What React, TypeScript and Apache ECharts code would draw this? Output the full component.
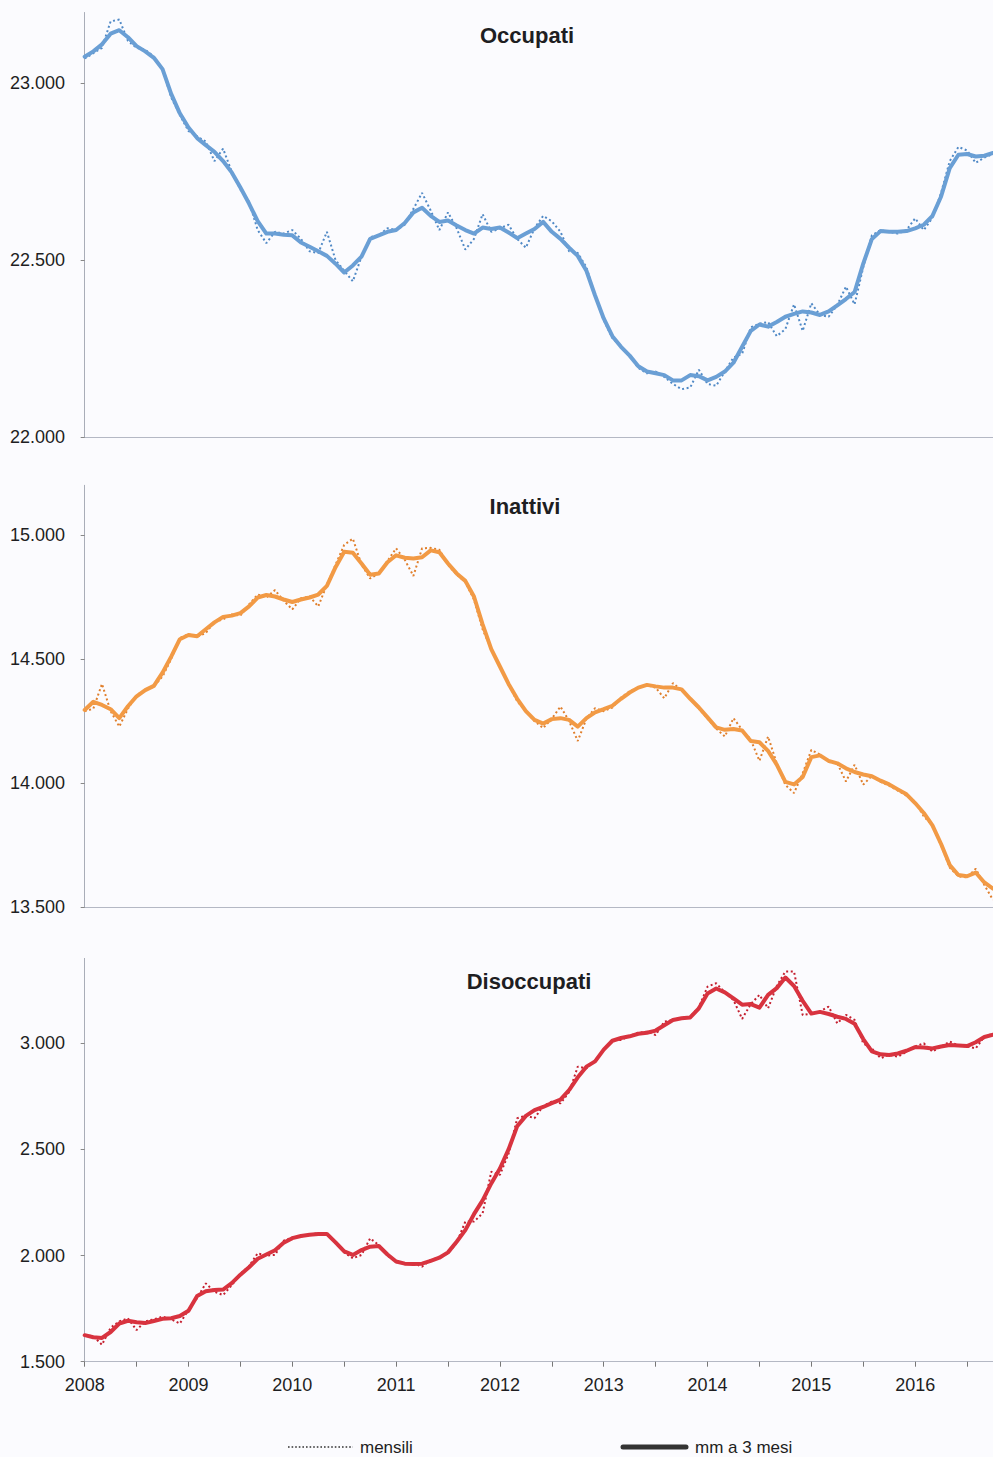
import React, { useEffect, useRef } from "react";
import * as echarts from "echarts";

// Month index 0 = Jan 2008
const yearLabels = ["2008", "2009", "2010", "2011", "2012", "2013", "2014", "2015", "2016"];

const occupatiMensili = [
  23070, 23085, 23100, 23175, 23180, 23120, 23100, 23095, 23075, 23040,
  22960, 22910, 22865, 22850, 22835, 22780, 22815, 22750, 22700, 22665,
  22585, 22548, 22580, 22575, 22585, 22560, 22525, 22520, 22580, 22500,
  22470, 22440, 22510, 22565, 22570, 22590, 22585, 22600, 22645, 22690,
  22640, 22585, 22635, 22590, 22530, 22560, 22630, 22580, 22590, 22600,
  22560, 22535, 22590, 22625, 22610, 22580, 22525, 22520, 22480, 22400,
  22330, 22280, 22255, 22230, 22195, 22180, 22185, 22170, 22150, 22135,
  22140, 22190, 22150, 22145, 22185, 22225, 22235, 22310, 22320, 22325,
  22285, 22305, 22375, 22300, 22378, 22345, 22340, 22373, 22425, 22375,
  22480, 22570, 22585, 22580, 22575, 22585, 22618, 22585, 22620, 22690,
  22780, 22820, 22810, 22775, 22790, 22800,
];
const occupatiMM3 = [
  23075, 23090, 23110, 23140, 23150, 23130, 23105, 23090, 23072, 23040,
  22970, 22915, 22875, 22845, 22825, 22806, 22780, 22748, 22705, 22660,
  22610, 22575, 22575, 22572, 22570, 22550, 22538, 22525, 22512, 22490,
  22465, 22485, 22510, 22560, 22570, 22580, 22585, 22605, 22635, 22648,
  22625, 22608, 22612, 22598, 22585, 22575, 22592, 22588, 22592, 22578,
  22562, 22575, 22588, 22608, 22580, 22560, 22535, 22512, 22470, 22400,
  22335, 22285, 22255, 22230, 22200, 22185, 22180, 22175, 22160, 22160,
  22175, 22172, 22160, 22170, 22185, 22210, 22255, 22300, 22318, 22312,
  22325, 22340, 22348, 22355, 22352, 22345, 22355, 22372, 22390, 22410,
  22490, 22560, 22582, 22580, 22580, 22582, 22590, 22600, 22625, 22680,
  22760, 22798, 22800, 22793, 22795, 22803,
];

const inattiviMensili = [
  14290, 14300, 14400, 14290, 14228, 14300, 14355, 14375, 14390, 14430,
  14500, 14585, 14600, 14590, 14605, 14650, 14660, 14680, 14675, 14720,
  14760, 14748, 14778, 14735, 14700, 14745, 14752, 14712, 14800, 14880,
  14960, 14985, 14880, 14825, 14845, 14895, 14946, 14900, 14835, 14946,
  14948, 14940, 14880, 14840, 14810, 14740, 14620, 14540, 14470, 14400,
  14330, 14290, 14250, 14222, 14260, 14309, 14250, 14170, 14260, 14302,
  14290, 14305, 14345, 14370, 14385, 14395, 14385, 14342, 14403, 14375,
  14340, 14300, 14260, 14220, 14188, 14262, 14215, 14175, 14090, 14188,
  14080, 13993, 13960, 14040, 14134, 14115, 14085, 14080, 14007, 14074,
  13994, 14030, 14005, 13990, 13970, 13950, 13925, 13866, 13830, 13750,
  13660, 13625, 13620, 13655, 13590, 13530,
];
const inattiviMM3 = [
  14295, 14328, 14315, 14298, 14262, 14310, 14350, 14375, 14392, 14445,
  14510, 14580, 14597, 14592, 14620, 14648, 14670, 14675, 14685, 14712,
  14748, 14758, 14752, 14740, 14730, 14740, 14748, 14760, 14795, 14870,
  14932, 14928, 14885, 14840, 14845, 14890, 14918, 14908, 14905, 14910,
  14938, 14930, 14885, 14845, 14815, 14752, 14640, 14540, 14470, 14400,
  14340, 14290, 14255, 14240, 14258, 14262, 14255, 14228, 14262, 14285,
  14298, 14312, 14340, 14365, 14385, 14396, 14390, 14385, 14385, 14378,
  14340, 14305, 14265, 14225, 14215, 14218, 14212, 14170, 14165, 14130,
  14075, 14005, 13995, 14025, 14105, 14112, 14090, 14080, 14060, 14045,
  14035, 14028, 14010, 13995, 13975, 13955, 13920, 13880, 13830, 13755,
  13670, 13630, 13625, 13640, 13600, 13575,
];

const disoccupatiMensili = [
  1625, 1620, 1580, 1660, 1690, 1704, 1649, 1690, 1700, 1712,
  1700, 1680, 1745, 1800, 1869, 1830, 1814, 1860, 1915, 1950,
  2011, 2000, 2003, 2070, 2085, 2090, 2100, 2105, 2100, 2060,
  2015, 1987, 2003, 2081, 2050, 2000, 1970, 1960, 1965, 1948,
  1980, 1990, 2010, 2060, 2160, 2160, 2199, 2395, 2380, 2480,
  2647, 2660, 2647, 2705, 2725, 2717, 2770, 2890, 2882, 2920,
  2969, 3015, 3016, 3035, 3050, 3055, 3039, 3102, 3110, 3120,
  3125, 3170, 3267, 3283, 3240, 3204, 3115, 3185, 3228, 3165,
  3270, 3338, 3338, 3133, 3140, 3150, 3173, 3094, 3134, 3110,
  3000, 2976, 2930, 2945, 2937, 2960, 2985, 3000, 2961, 2985,
  3008, 2990, 2985, 2976, 3031, 3045,
];
const disoccupatiMM3 = [
  1625, 1615, 1612, 1640, 1680, 1693, 1686, 1682, 1692, 1702,
  1705, 1715, 1740, 1810, 1832, 1838, 1840, 1870, 1910, 1945,
  1985, 2005, 2025, 2060, 2082, 2092, 2098, 2102, 2102, 2062,
  2020, 2003, 2026, 2042, 2045, 2005, 1972, 1962, 1960, 1962,
  1975, 1990, 2015, 2065, 2120, 2195, 2260, 2340, 2410, 2500,
  2610, 2658, 2685, 2700, 2718, 2735, 2780, 2840, 2890, 2915,
  2970, 3012, 3025, 3033, 3045, 3050, 3060, 3085, 3110, 3118,
  3122, 3165, 3235, 3258, 3240, 3212, 3182, 3185, 3168, 3228,
  3260, 3310, 3270, 3200, 3140, 3148, 3138, 3125, 3115, 3092,
  3020, 2962, 2948, 2945, 2952, 2965, 2982, 2980, 2976, 2985,
  2992, 2990, 2987, 3005, 3030, 3040,
];

const panels = [
  { title: "Occupati", mensili: occupatiMensili, mm: occupatiMM3, min: 22000, max: 23200, ticks: [22000, 22500, 23000], line: "#6a9fd5", dots: "#5089c6" },
  { title: "Inattivi", mensili: inattiviMensili, mm: inattiviMM3, min: 13500, max: 15200, ticks: [13500, 14000, 14500, 15000], line: "#f29a45", dots: "#e07f2c" },
  { title: "Disoccupati", mensili: disoccupatiMensili, mm: disoccupatiMM3, min: 1500, max: 3400, ticks: [1500, 2000, 2500, 3000], line: "#d8333f", dots: "#c41e2e" },
];

const FONT = "'Liberation Sans Narrow', 'Arial Narrow', 'Liberation Sans', Arial, sans-serif";
const TEXT = "#1e1e22";

function fmt(v: number): string {
  const th = Math.floor(v / 1000);
  const rest = String(Math.round(v % 1000)).padStart(3, "0");
  return th + "." + rest;
}

const grids = [
  { left: 82, top: 12.5, width: 911, height: 424.5 },
  { left: 82, top: 485.3, width: 911, height: 422 },
  { left: 82, top: 958.4, width: 911, height: 403.3 },
];
const titlePos = [
  { x: 527, y: 35 },
  { x: 525, y: 506 },
  { x: 529, y: 981 },
];

export default function App() {
  const ref = useRef<HTMLDivElement>(null);
  useEffect(() => {
    if (!ref.current) return;
    document.body.style.background = "#fbfbfe";
    const chart = echarts.init(ref.current, undefined, { renderer: "svg" });
    const halfYearTicks: number[] = [];
    for (let m = 0; m <= 102; m += 6) halfYearTicks.push(m);
    const yearTicks = yearLabels.map((_, i) => i * 12);

    const xAxis = panels.map((_, i) => {
      const bottom = i === 2;
      return {
        type: "value",
        gridIndex: i,
        min: -0.31,
        max: 105,
        axisLine: { show: true, lineStyle: { color: "#b4b8c4", width: 1 } },
        splitLine: { show: false },
        axisTick: bottom
          ? { show: true, customValues: halfYearTicks, length: 5, inside: false, lineStyle: { color: "#777", width: 1 } }
          : { show: false },
        axisLabel: bottom
          ? {
              show: true,
              customValues: yearTicks,
              formatter: (v: number) => yearLabels[Math.round(v / 12)] ?? "",
              fontFamily: FONT,
              fontSize: 18,
              color: TEXT,
              margin: 14,
            }
          : { show: false },
      };
    });

    const yAxis = panels.map((p, i) => ({
      type: "value",
      gridIndex: i,
      min: p.min,
      max: p.max,
      axisLine: { show: true, lineStyle: { color: "#a9adb8", width: 1 } },
      splitLine: { show: false },
      axisTick: { show: true, customValues: p.ticks, length: 4, lineStyle: { color: "#888", width: 1 } },
      axisLabel: {
        show: true,
        customValues: p.ticks,
        formatter: (v: number) => fmt(v),
        fontFamily: FONT,
        fontSize: 18,
        color: TEXT,
        margin: 17,
      },
    }));

    const series: any[] = [];
    panels.forEach((p, i) => {
      series.push({
        name: "mensili",
        type: "line",
        xAxisIndex: i,
        yAxisIndex: i,
        data: p.mensili.map((v, m) => [m, v]),
        showSymbol: false,
        lineStyle: { color: p.dots, width: 2, type: [2, 2.6] },
        z: 2,
      });
      series.push({
        name: "mm a 3 mesi",
        type: "line",
        xAxisIndex: i,
        yAxisIndex: i,
        data: p.mm.map((v, m) => [m, v]),
        showSymbol: false,
        lineStyle: { color: p.line, width: 4, cap: "round", join: "round" },
        z: 3,
      });
    });

    const graphic: any[] = panels.map((p, i) => ({
      type: "text",
      x: titlePos[i].x,
      y: titlePos[i].y,
      style: {
        text: p.title,
        fontFamily: FONT,
        fontSize: 22,
        fontWeight: "bold",
        fill: TEXT,
        align: "center",
        verticalAlign: "middle",
      },
    }));
    graphic.push(
      {
        type: "line",
        shape: { x1: 288, y1: 1447, x2: 353, y2: 1447 },
        style: { stroke: "#333", lineWidth: 1.6, lineDash: [1.6, 2] },
      },
      {
        type: "text",
        x: 360,
        y: 1447,
        style: { text: "mensili", fontFamily: FONT, fontSize: 17, fill: TEXT, verticalAlign: "middle", align: "left" },
      },
      {
        type: "line",
        shape: { x1: 623, y1: 1447, x2: 686, y2: 1447 },
        style: { stroke: "#333", lineWidth: 5, lineCap: "round" },
      },
      {
        type: "text",
        x: 695,
        y: 1447,
        style: { text: "mm a 3 mesi", fontFamily: FONT, fontSize: 17, fill: TEXT, verticalAlign: "middle", align: "left" },
      }
    );

    chart.setOption({
      animation: false,
      backgroundColor: "#fbfbfe",
      grid: grids,
      xAxis,
      yAxis,
      series,
      graphic,
    });
    return () => chart.dispose();
  }, []);
  return <div ref={ref} style={{ position: "absolute", left: 0, top: 0, width: 993, height: 1457 }} />;
}
